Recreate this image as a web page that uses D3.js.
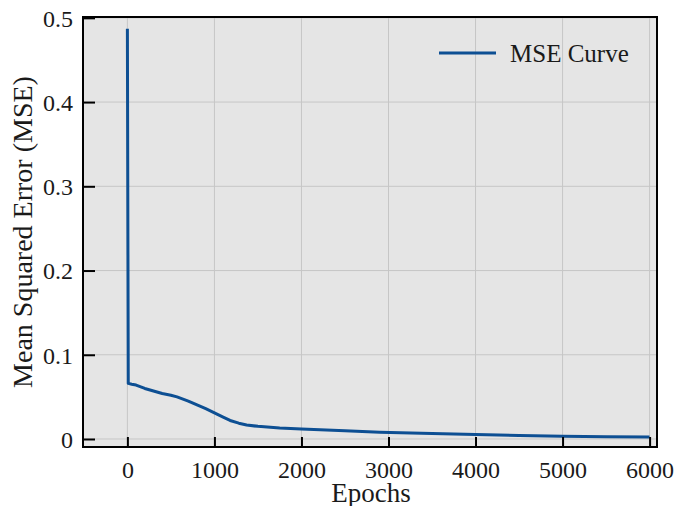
<!DOCTYPE html>
<html>
<head>
<meta charset="utf-8">
<script src="https://cdn.jsdelivr.net/npm/d3@7"></script>
<style>
  body { margin: 0; background: #fff; }
  svg { display: block; font-family: "Liberation Serif", "Times New Roman", serif; }
</style>
</head>
<body>
<svg id="chart" width="675" height="506"></svg>
<script>
// training curve
var epochs = [0, 10, 50, 100, 200, 300, 400, 500, 570, 700, 800, 900, 1000, 1100, 1180, 1280, 1370, 1500, 1750, 2000, 2500, 2900, 3500, 4000, 4500, 5000, 5500, 5999];
var mse    = [0.487, 0.066, 0.065, 0.064, 0.060, 0.057, 0.054, 0.052, 0.050, 0.045, 0.0405, 0.036, 0.031, 0.026, 0.022, 0.0188, 0.0167, 0.015, 0.013, 0.0119, 0.0098, 0.0079, 0.0064, 0.0052, 0.0042, 0.0033, 0.0028, 0.0024];
var xTicks = [0, 1000, 2000, 3000, 4000, 5000, 6000];
var yTicks = [0, 0.1, 0.2, 0.3, 0.4, 0.5];
var seriesName = "MSE Curve";

var svg = d3.select("#chart");
// plot box (note: "top" is taken by window.top)
var pLeft = 83, pRight = 657, pTop = 17, pBottom = 447;

var x = d3.scaleLinear().domain([-510, 6085]).range([pLeft, pRight]);
var y = d3.scaleLinear().domain([-0.0095, 0.501]).range([pBottom, pTop]);

// plot background
svg.append("rect")
  .attr("x", pLeft).attr("y", pTop)
  .attr("width", pRight - pLeft).attr("height", pBottom - pTop)
  .attr("fill", "#e5e5e5");

// grid
var grid = svg.append("g").attr("stroke", "#c6c6c6").attr("stroke-width", 1);
grid.selectAll(".vx").data(xTicks).enter().append("line")
  .attr("x1", d => x(d)).attr("x2", d => x(d))
  .attr("y1", pTop).attr("y2", pBottom);
grid.selectAll(".hy").data(yTicks).enter().append("line")
  .attr("x1", pLeft).attr("x2", pRight)
  .attr("y1", d => y(d)).attr("y2", d => y(d));

// the curve
var line = d3.line()
  .x((d, i) => x(epochs[i]))
  .y(d => y(d));
svg.append("path")
  .datum(mse)
  .attr("d", line)
  .attr("fill", "none")
  .attr("stroke", "#0d4f93")
  .attr("stroke-width", 3)
  .attr("stroke-linejoin", "round");

// axes with inward ticks
var xAxis = svg.append("g")
  .attr("transform", "translate(0," + pBottom + ")")
  .call(d3.axisBottom(x).tickValues(xTicks).tickSizeInner(-10).tickSizeOuter(0).tickPadding(14).tickFormat(d3.format("d")));
var yAxis = svg.append("g")
  .attr("transform", "translate(" + pLeft + ",0)")
  .call(d3.axisLeft(y).tickValues(yTicks).tickSizeInner(-12).tickSizeOuter(0).tickPadding(10).tickFormat(d => d === 0 ? "0" : d3.format(".1f")(d)));

[xAxis, yAxis].forEach(function(a) {
  a.select(".domain").remove();
  a.selectAll(".tick line").attr("stroke", "#000").attr("stroke-width", 2);
  a.selectAll(".tick text")
    .attr("fill", "#1a1a1a")
    .attr("font-size", 24)
    .attr("font-family", "Liberation Serif, serif");
});
yAxis.selectAll(".tick text").attr("dy", "0.35em");

// frame
svg.append("rect")
  .attr("x", pLeft).attr("y", pTop)
  .attr("width", pRight - pLeft).attr("height", pBottom - pTop)
  .attr("fill", "none")
  .attr("stroke", "#000")
  .attr("stroke-width", 2);

// axis titles
svg.append("text")
  .attr("x", 371).attr("y", 502)
  .attr("text-anchor", "middle")
  .attr("font-size", 27)
  .attr("fill", "#1a1a1a")
  .text("Epochs");
svg.append("text")
  .attr("transform", "translate(32," + (pTop + pBottom) / 2 + ") rotate(-90)")
  .attr("text-anchor", "middle")
  .attr("font-size", 28)
  .attr("fill", "#1a1a1a")
  .text("Mean Squared Error (MSE)");

// legend
var legend = svg.append("g");
legend.append("line")
  .attr("x1", 439).attr("x2", 496)
  .attr("y1", 53).attr("y2", 53)
  .attr("stroke", "#0d4f93").attr("stroke-width", 3);
legend.append("text")
  .attr("x", 510).attr("y", 62)
  .attr("font-size", 25)
  .attr("fill", "#1a1a1a")
  .text(seriesName);
</script>
</body>
</html>
